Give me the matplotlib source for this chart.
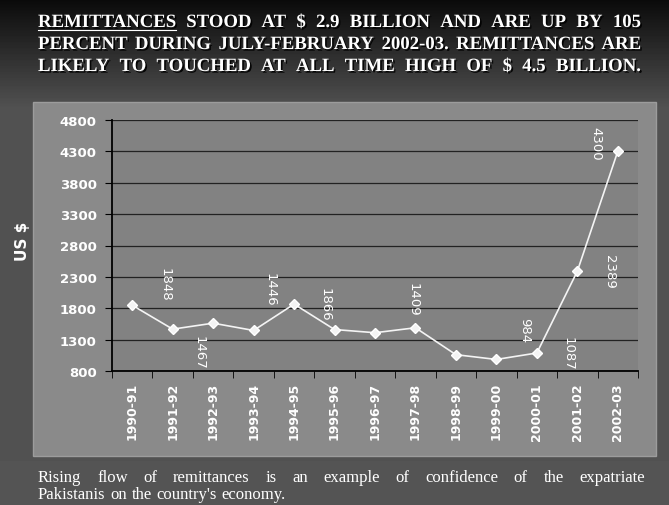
import numpy as np
import matplotlib.pyplot as plt
import matplotlib.patheffects as pe
from matplotlib.patches import Rectangle

years = ['1990-91', '1991-92', '1992-93', '1993-94', '1994-95', '1995-96', '1996-97',
         '1997-98', '1998-99', '1999-00', '2000-01', '2001-02', '2002-03']
remit = [1848, 1467, 1562, 1446, 1866, 1461, 1410, 1489, 1060, 984, 1087, 2389, 4300]

# labels shown on the chart and where they sit (category index, value)
lab_text = ['1848', '1467', '1446', '1866', '1409', '984', '1087', '2389', '4300']
lab_x = [0.81, 1.65, 3.41, 4.77, 6.94, 9.7, 10.77, 11.8, 11.46]
lab_y = [2190, 1100, 2110, 1870, 1950, 1460, 1090, 2400, 4430]

yticks = list(range(800, 4801, 500))

title_lines = ['REMITTANCES STOOD AT $ 2.9 BILLION AND ARE UP BY 105',
               'PERCENT DURING JULY-FEBRUARY 2002-03. REMITTANCES ARE',
               'LIKELY TO TOUCHED AT ALL TIME HIGH OF $ 4.5 BILLION.']
foot_lines = ['Rising flow of remittances is an example of confidence of the expatriate',
              "Pakistanis on the country's economy."]

W, H = 669, 506
fig = plt.figure(figsize=(W / 100, H / 100), dpi=100)

# background: dark gradient at top, gray slide
bg = fig.add_axes([0, 0, 1, 1], zorder=-10)
bg.set_axis_off()
grad = np.ones((H, 1))
grad[:110, 0] = np.linspace(0.04, 0.32, 110)
grad[110:, 0] = 0.32
bg.imshow(grad, cmap='gray', vmin=0, vmax=1, aspect='auto', extent=[0, 1, 0, 1])
bg.set_xlim(0, 1)
bg.set_ylim(0, 1)
# chart box
bg.add_patch(Rectangle((33 / W, 1 - 457 / H), (656 - 33) / W, (457 - 103) / H,
                       facecolor='#8a8a8a', edgecolor='#9c9c9c', lw=1))
# footer band
bg.add_patch(Rectangle((0, 0), 1, 1 - 462 / H, facecolor='#545454', edgecolor='none'))

ax = fig.add_axes([112 / W, 1 - 372 / H, (638 - 112) / W, (372 - 121) / H])
ax.set_facecolor('#828282')
x = np.arange(len(years))
ax.plot(x, remit, color='#f4f4f4', lw=1.2, marker='D', ms=5, mec='white', mfc='#f4f4f4', zorder=3)
for t, lx, ly in zip(lab_text, lab_x, lab_y):
    ax.text(lx, ly, t, rotation=270, ha='center', va='center', color='white',
            fontsize=9.5, family='DejaVu Sans')

ax.set_xlim(-0.5, len(years) - 0.5)
ax.set_ylim(800, 4800)
ax.set_yticks(yticks)
ax.set_yticklabels([str(v) for v in yticks], color='white', fontsize=9.5, fontweight='bold')
ax.set_xticks(x)
ax.set_xticklabels(years, rotation=90, color='white', fontsize=9, fontweight='bold')
ax.set_xticks(np.arange(-0.5, len(years)), minor=True)
ax.tick_params(axis='x', which='major', length=0, pad=8)
ax.tick_params(axis='x', which='minor', length=5, color='black', direction='out')
ax.tick_params(axis='y', length=5, color='black', direction='out', pad=6)
ax.grid(axis='y', color='#222222', lw=0.9)
ax.set_axisbelow(True)
for s in ['top', 'right']:
    ax.spines[s].set_visible(False)
for s in ['left', 'bottom']:
    ax.spines[s].set_color('black')
    ax.spines[s].set_linewidth(1.3)
ax.set_ylabel('US $', color='white', fontsize=11, fontweight='bold', labelpad=2)
ax.yaxis.set_label_coords(-0.155, 0.52)

shadow = [pe.withSimplePatchShadow(offset=(1.2, -1.2), shadow_rgbFace='black', alpha=0.9)]


def justify(line, x0, x1, y, size, weight='normal', last=False, fx=None):
    words = line.split(' ')
    r = fig.canvas.get_renderer()
    ts = []
    widths = []
    for w in words:
        t = fig.text(0, y, w, fontsize=size, color='white', family='Liberation Serif',
                     fontweight=weight, va='baseline', path_effects=fx)
        widths.append(t.get_window_extent(r).width / W)
        ts.append(t)
    gap = (x1 - x0 - sum(widths)) / max(len(words) - 1, 1)
    if last:
        gap = 0.007
    pos = x0
    for t, w in zip(ts, widths):
        t.set_x(pos)
        pos += w + gap
    return widths


fig.canvas.draw()
ws = justify(title_lines[0], 38 / W, 641 / W, 1 - 28 / H, 13.5, 'bold', fx=shadow)
justify(title_lines[1], 38 / W, 641 / W, 1 - 50 / H, 13.5, 'bold', fx=shadow)
justify(title_lines[2], 38 / W, 641 / W, 1 - 72 / H, 13.5, 'bold', fx=shadow)
# underline on first word
fig.add_artist(plt.Line2D([38 / W, 38 / W + ws[0]], [1 - 31 / H, 1 - 31 / H], color='white', lw=0.8))

justify(foot_lines[0], 38 / W, 645 / W, 1 - 482 / H, 12)
justify(foot_lines[1], 38 / W, 645 / W, 1 - 499 / H, 12, last=True)

fig.savefig('out.png', dpi=100)
